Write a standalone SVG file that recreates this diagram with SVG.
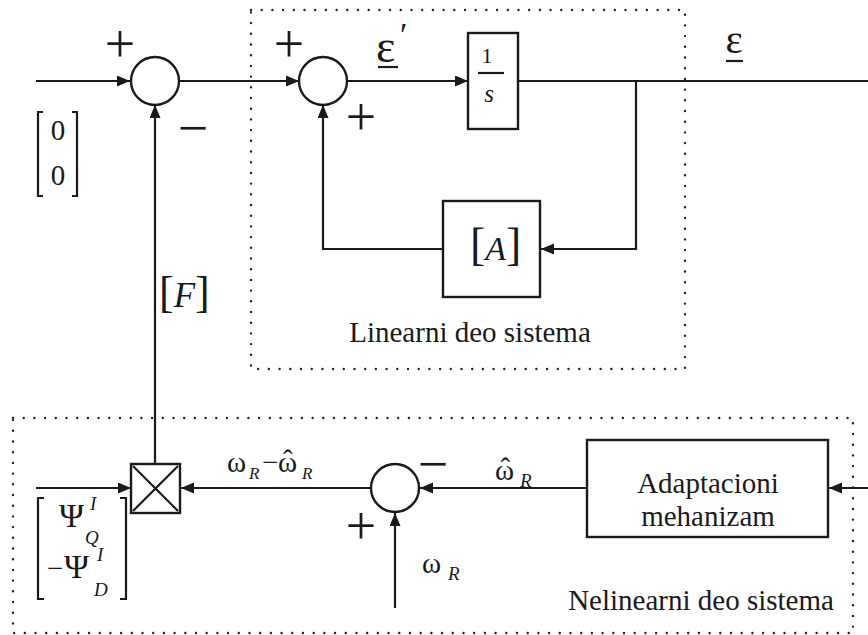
<svg xmlns="http://www.w3.org/2000/svg" width="868" height="635" viewBox="0 0 868 635">
<style>
.ln{fill:none;stroke:#1a1a1a;stroke-width:2.2}
.dot{fill:none;stroke:#222;stroke-width:2.4;stroke-dasharray:0 10.7;stroke-linecap:round}
.blk{fill:#fff;stroke:#1a1a1a;stroke-width:2.4}
.t{font-family:"Liberation Serif","Times New Roman",serif;fill:#1a1a1a}
.i{font-style:italic}
.sg{font-family:"Liberation Serif","Times New Roman",serif;fill:#1a1a1a;font-size:54px;text-anchor:middle}
</style>
<defs>
<marker id="ar" markerUnits="userSpaceOnUse" markerWidth="14" markerHeight="12" refX="13" refY="5.5" orient="auto">
<path d="M0,0 L13,5.5 L0,11 z" fill="#1a1a1a"/>
</marker>
</defs>

<g id="linear-region">
<rect class="dot" x="251" y="10" width="434" height="359"/>
<text class="t" x="470" y="342" font-size="29" text-anchor="middle">Linearni deo sistema</text>
</g>
<g id="nonlinear-region">
<rect class="dot" x="13" y="418" width="840" height="215"/>
<text class="t" x="701" y="610" font-size="29" text-anchor="middle">Nelinearni deo sistema</text>
</g>

<g id="connectors">
<path class="ln" d="M36,81 H130" marker-end="url(#ar)"/>
<path class="ln" d="M178,81 H299" marker-end="url(#ar)"/>
<path class="ln" d="M347,81 H468" marker-end="url(#ar)"/>
<path class="ln" d="M518,81 H868"/>
<path class="ln" d="M636,81 V249 H541" marker-end="url(#ar)"/>
<path class="ln" d="M443,249 H323 V105" marker-end="url(#ar)"/>
<path class="ln" d="M155,464 V105" marker-end="url(#ar)"/>
<path class="ln" d="M36,488 H131" marker-end="url(#ar)"/>
<path class="ln" d="M371,488 H181" marker-end="url(#ar)"/>
<path class="ln" d="M587,488 H420" marker-end="url(#ar)"/>
<path class="ln" d="M395,608 V513" marker-end="url(#ar)"/>
<path class="ln" d="M868,488 H829" marker-end="url(#ar)"/>
</g>

<g id="sum1">
<circle class="blk" cx="155" cy="81" r="24"/>
<text class="sg" x="120" y="62">+</text>
<text class="sg" x="193" y="146">−</text>
</g>

<g id="zero-vector">
<path class="ln" d="M43,112 H38 V196 H43 M72,112 H77 V196 H72" stroke-width="1.8"/>
<text class="t" font-size="29" text-anchor="middle"><tspan x="58" y="140">0</tspan><tspan x="58" y="185">0</tspan></text>
</g>

<g id="sum2">
<circle class="blk" cx="323" cy="81" r="24"/>
<text class="sg" x="289" y="62">+</text>
<text class="sg" x="361" y="135">+</text>
</g>

<g id="eps-prime-label">
<text class="t" font-size="46"><tspan x="376" y="62">ε</tspan><tspan x="400" y="46" font-size="34">′</tspan></text>
<path class="ln" d="M378,67 H398"/>
</g>

<g id="integrator">
<rect class="blk" x="468" y="33" width="50" height="96"/>
<text class="t" x="487" y="63" font-size="22" text-anchor="middle">1</text>
<path class="ln" d="M478,73 H504" stroke-width="1.8"/>
<text class="t i" x="489" y="102" font-size="25" text-anchor="middle">s</text>
</g>

<g id="eps-label">
<text class="t" x="734" y="53" font-size="41" text-anchor="middle">ε</text>
<path class="ln" d="M726,61 H743"/>
</g>

<g id="matrix-A">
<rect class="blk" x="443" y="201" width="97" height="96"/>
<text class="t" x="470" y="260" font-size="46">[<tspan class="i" font-size="34">A</tspan><tspan dx="0">]</tspan></text>
</g>

<g id="matrix-F">
<text class="t" x="159" y="307" font-size="44">[<tspan class="i" font-size="35">F</tspan><tspan dx="0">]</tspan></text>
</g>

<g id="multiplier">
<rect class="blk" x="131" y="464" width="49" height="49" stroke-width="3.2"/>
<path class="ln" d="M133,466 L178,511 M178,466 L133,511" stroke-width="4.5"/>
</g>

<g id="psi-vector">
<path class="ln" d="M44,498 H38 V599 H44 M120,498 H126 V599 H120" stroke-width="1.8"/>
<text class="t" font-size="34"><tspan x="59" y="527">Ψ</tspan><tspan class="i" font-size="19" x="90" y="510">I</tspan><tspan class="i" font-size="19" x="85" y="544">Q</tspan></text>
<text class="t" font-size="34"><tspan x="47" y="578" font-size="29">−</tspan><tspan x="64" y="578">Ψ</tspan><tspan class="i" font-size="19" x="97" y="561">I</tspan><tspan class="i" font-size="19" x="94" y="596">D</tspan></text>
</g>

<g id="error-label">
<text class="t" font-size="29"><tspan x="227" y="472">ω</tspan><tspan class="i" font-size="17" x="249" y="479">R</tspan><tspan x="262" y="472">−</tspan><tspan x="278" y="472">ω</tspan><tspan x="283" y="470">ˆ</tspan><tspan class="i" font-size="17" x="302" y="479">R</tspan></text>
</g>

<g id="sum3">
<circle class="blk" cx="395" cy="488" r="24"/>
<text class="sg" x="433" y="482">−</text>
<text class="sg" x="361" y="544">+</text>
</g>

<g id="omega-hat-label">
<text class="t" font-size="29"><tspan x="495" y="480">ω</tspan><tspan x="500.5" y="478">ˆ</tspan><tspan class="i" font-size="19" x="520" y="487">R</tspan></text>
</g>

<g id="omega-label">
<text class="t" font-size="29"><tspan x="422" y="573">ω</tspan><tspan class="i" font-size="19" x="448" y="580">R</tspan></text>
</g>

<g id="adaptation">
<rect class="blk" x="587" y="440" width="241" height="97"/>
<text class="t" font-size="29" text-anchor="middle"><tspan x="708" y="493">Adaptacioni</tspan><tspan x="708" y="526">mehanizam</tspan></text>
</g>
</svg>
